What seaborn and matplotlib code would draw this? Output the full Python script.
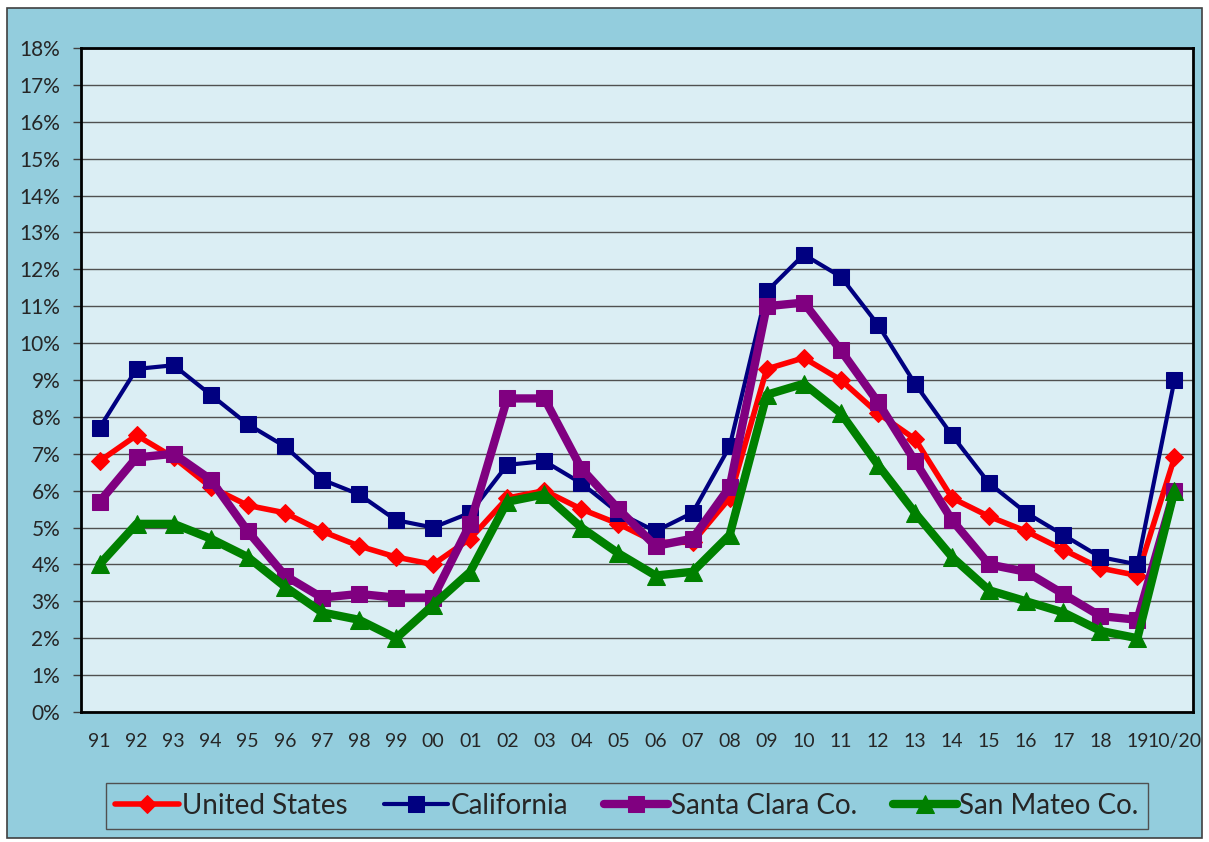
import numpy as np
import pandas as pd
import seaborn as sns
import matplotlib.pyplot as plt
from matplotlib.patches import Rectangle
from matplotlib.ticker import PercentFormatter

years = ["91", "92", "93", "94", "95", "96", "97", "98", "99", "00",
         "01", "02", "03", "04", "05", "06", "07", "08", "09", "10",
         "11", "12", "13", "14", "15", "16", "17", "18", "19", "10/20"]

us = [6.8, 7.5, 6.9, 6.1, 5.6, 5.4, 4.9, 4.5, 4.2, 4.0,
      4.7, 5.8, 6.0, 5.5, 5.1, 4.6, 4.6, 5.8, 9.3, 9.6,
      9.0, 8.1, 7.4, 5.8, 5.3, 4.9, 4.4, 3.9, 3.7, 6.9]
california = [7.7, 9.3, 9.4, 8.6, 7.8, 7.2, 6.3, 5.9, 5.2, 5.0,
              5.4, 6.7, 6.8, 6.2, 5.4, 4.9, 5.4, 7.2, 11.4, 12.4,
              11.8, 10.5, 8.9, 7.5, 6.2, 5.4, 4.8, 4.2, 4.0, 9.0]
santa_clara = [5.7, 6.9, 7.0, 6.3, 4.9, 3.7, 3.1, 3.2, 3.1, 3.1,
               5.1, 8.5, 8.5, 6.6, 5.5, 4.5, 4.7, 6.1, 11.0, 11.1,
               9.8, 8.4, 6.8, 5.2, 4.0, 3.8, 3.2, 2.6, 2.5, 6.0]
san_mateo = [4.0, 5.1, 5.1, 4.7, 4.2, 3.4, 2.7, 2.5, 2.0, 2.9,
             3.8, 5.7, 5.9, 5.0, 4.3, 3.7, 3.8, 4.8, 8.6, 8.9,
             8.1, 6.7, 5.4, 4.2, 3.3, 3.0, 2.7, 2.2, 2.0, 6.0]

series = [
    ("United States", us, "#FF0000", "D", 4, 9),
    ("California", california, "#000080", "s", 3, 12),
    ("Santa Clara Co.", santa_clara, "#800080", "s", 6, 12),
    ("San Mateo Co.", san_mateo, "#008000", "^", 6, 13),
]

sns.set_style("white")
plt.rcParams['font.family'] = ['Lato', 'DejaVu Sans']

outer_bg = "#93CDDD"
inner_bg = "#DBEEF4"

fig = plt.figure(figsize=(12.09, 8.42), dpi=100, facecolor="white")
fig.patches.append(Rectangle((7/1209, 4/842), 1195/1209, 830/842, transform=fig.transFigure,
                             facecolor=outer_bg, edgecolor="#404040", linewidth=1.2, zorder=-10))
ax = fig.add_axes([81/1209, 130/842, 1112/1209, 664/842])
ax.set_facecolor(inner_bg)

x = np.arange(len(years))
for name, vals, col, mk, lw, ms in series:
    df = pd.DataFrame({"x": x, "y": vals})
    sns.lineplot(data=df, x="x", y="y", ax=ax, color=col, marker=mk, linewidth=lw,
                 markersize=ms, markeredgecolor=col, label=name)

ax.set_xlim(-0.5, len(years) - 0.5)
ax.set_ylim(0, 18)
ax.set_yticks(range(0, 19))
ax.yaxis.set_major_formatter(PercentFormatter(decimals=0))
ax.set_xticks(x)
ax.set_xticklabels(years)
ax.set_xlabel("")
ax.set_ylabel("")
ax.grid(axis="y", color="#505050", linewidth=1)
ax.set_axisbelow(True)
for s in ax.spines.values():
    s.set_color("black")
    s.set_linewidth(2)
ax.tick_params(axis="y", length=6, width=1, color="#404040", labelsize=15, pad=9, left=True)
ax.tick_params(axis="x", length=0, labelsize=14, pad=15)

leg = ax.legend(loc="center", bbox_to_anchor=(627/1209, 36/842), bbox_transform=fig.transFigure,
                ncol=4, fontsize=20, frameon=True, fancybox=False, handlelength=2.3,
                columnspacing=1.3, handletextpad=0.1, borderpad=0.35)
leg.get_frame().set_facecolor(outer_bg)
leg.get_frame().set_edgecolor("#505050")
leg.get_frame().set_alpha(1)

fig.savefig("out.png", dpi=100, facecolor="white")
